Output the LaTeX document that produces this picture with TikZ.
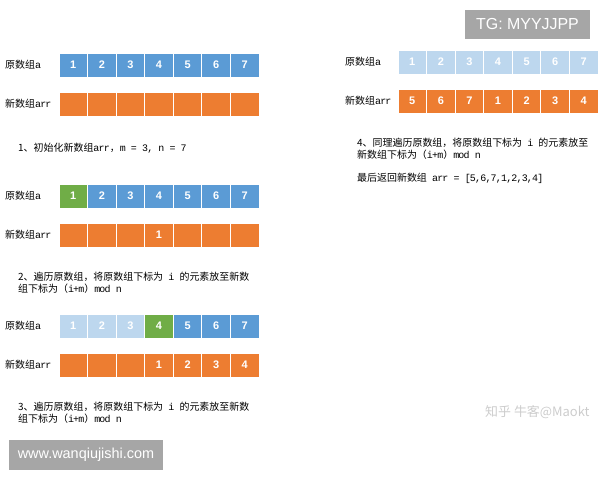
\documentclass[tikz,border=0pt]{standalone}
\usepackage{fontspec}
\setmainfont{Liberation Sans}
\setmonofont[LetterSpace=-8]{Liberation Mono}
\newfontfamily\cjk{Noto Sans CJK SC}
\usepackage{tikz}
\usetikzlibrary{positioning}
\definecolor{cblue}{HTML}{5B9BD5}
\definecolor{corange}{HTML}{ED7D31}
\definecolor{cgreen}{HTML}{70AD47}
\definecolor{clight}{HTML}{BDD7EE}
\definecolor{wmgrey}{HTML}{A6A6A6}
\newcommand{\tl}[1]{{\ttfamily #1}}
\tikzstyle{cell} = [rectangle, draw=white, line width=0.8bp, minimum width=28.57bp,
minimum height=24bp, inner sep=0pt, text=white, font=\fontsize{11}{11}\selectfont\bfseries]
\tikzstyle{lab} = [anchor=west, inner sep=0pt, font=\cjk\fontsize{10}{10}\selectfont]
\tikzstyle{note} = [anchor=north west, inner sep=0pt, align=left, font=\cjk\fontsize{10}{12}\selectfont]
\tikzstyle{wmbox} = [rectangle, fill=wmgrey, text=white, inner sep=0pt]

\begin{document}
\begin{tikzpicture}[x=1bp, y=-1bp]
    \useasboundingbox (0,0) rectangle (600,480);
    % labels
    \node [lab] (la1) at (5,65) {原数组\tl{a}};
    \node [lab] (lr1) at (5,104) {新数组\tl{arr}};
    \node [lab] (la2) at (5,196) {原数组\tl{a}};
    \node [lab] (lr2) at (5,235) {新数组\tl{arr}};
    \node [lab] (la3) at (5,326) {原数组\tl{a}};
    \node [lab] (lr3) at (5,365) {新数组\tl{arr}};
    \node [lab] (la4) at (345,62) {原数组\tl{a}};
    \node [lab] (lr4) at (345,101) {新数组\tl{arr}};

    % arrays, step 1
    \foreach \v [count=\i] in {1,...,7}
        \node [cell, fill=cblue] (a1\i) at (44.7+28.57*\i,65) {\v};
    \foreach \v [count=\i] in {,,,,,,}
        \node [cell, fill=corange] (r1\i) at (44.7+28.57*\i,104) {\v};
    % step 2
    \foreach \v/\c [count=\i] in {1/cgreen,2/cblue,3/cblue,4/cblue,5/cblue,6/cblue,7/cblue}
        \node [cell, fill=\c] (a2\i) at (44.7+28.57*\i,196) {\v};
    \foreach \v [count=\i] in {,,,1,,,}
        \node [cell, fill=corange] (r2\i) at (44.7+28.57*\i,235) {\v};
    % step 3
    \foreach \v/\c [count=\i] in {1/clight,2/clight,3/clight,4/cgreen,5/cblue,6/cblue,7/cblue}
        \node [cell, fill=\c] (a3\i) at (44.7+28.57*\i,326) {\v};
    \foreach \v [count=\i] in {,,,1,2,3,4}
        \node [cell, fill=corange] (r3\i) at (44.7+28.57*\i,365) {\v};
    % step 4
    \foreach \v [count=\i] in {1,...,7}
        \node [cell, fill=clight] (a4\i) at (383.7+28.57*\i,62) {\v};
    \foreach \v [count=\i] in {5,6,7,1,2,3,4}
        \node [cell, fill=corange] (r4\i) at (383.7+28.57*\i,101) {\v};

    % notes
    \node [note] (n1) at (18,143) {1、初始化新数组\tl{arr}，\tl{m = 3, n = 7}};
    \node [note] (n2) at (18,272) {2、遍历原数组，将原数组下标为\tl{ i }的元素放至新数\\组下标为（\tl{i+m}）\tl{mod n}};
    \node [note] (n3) at (18,402) {3、遍历原数组，将原数组下标为\tl{ i }的元素放至新数\\组下标为（\tl{i+m}）\tl{mod n}};
    \node [note] (n4) at (357,138) {4、同理遍历原数组，将原数组下标为\tl{ i }的元素放至\\新数组下标为（\tl{i+m}）\tl{mod n}};
    \node [note] (n5) at (357,173) {最后返回新数组\tl{ arr = [5,6,7,1,2,3,4]}};

    % watermarks
    \node [wmbox, minimum width=125bp, minimum height=29bp, font=\fontsize{16}{16}\selectfont] (tg) at (527.5,24.5) {TG: MYYJJPP};
    \node [wmbox, minimum width=154bp, minimum height=30bp, font=\fontsize{14.5}{14.5}\selectfont] (www) at (86,455) {www.wanqiujishi.com};
    \node [text=black!20, anchor=west, inner sep=0pt, font=\cjk\fontsize{13}{13}\selectfont] (zh) at (485,412) {知乎 牛客@Maokt};
\end{tikzpicture}
\end{document}
